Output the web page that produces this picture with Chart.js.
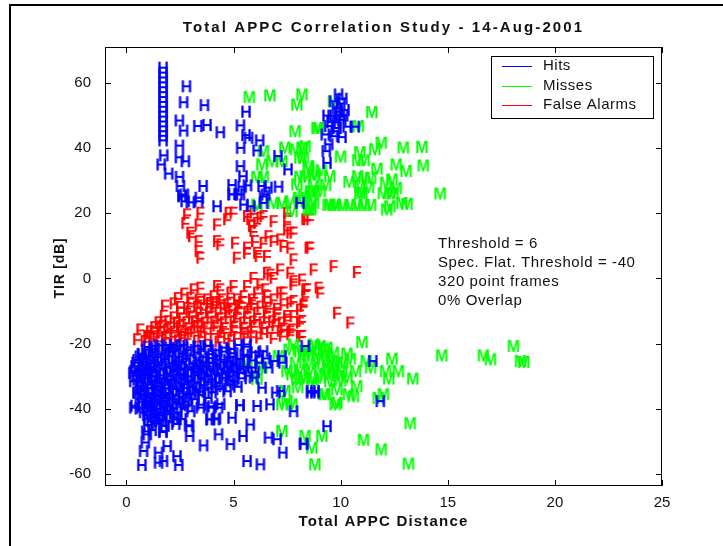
<!DOCTYPE html>
<html>
<head>
<meta charset="utf-8">
<script src="https://cdn.jsdelivr.net/npm/chart.js@4.4.1/dist/chart.umd.min.js"></script>
<style>
  html, body { margin: 0; padding: 0; background: #fff; }
  canvas { display: block; }
</style>
</head>
<body>
<canvas id="chart" width="723" height="546"></canvas>
<script>
// [APPC distance, TIR dB] for each frame class
const hitsXY = [
  // tall stack near 1.7
  [1.71,64.5],[1.71,63],[1.71,61.5],[1.71,60],[1.71,58.5],[1.71,57],[1.71,55.5],[1.71,54],
  [1.71,52.5],[1.71,51],[1.71,49.5],[1.71,48],[1.71,46.5],[1.71,45],[1.71,43.6],[1.71,42.2],
  [1.74,37.6],[1.62,34.8],
  // upper scatter
  [2.8,58.8],[2.67,53.9],[3.64,53],[2.47,48.3],[2.67,45.2],[3.33,46.6],[3.76,46.9],[4.38,44.7],
  [5.32,46.8],[5.58,51],[5.58,43.8],[5.7,43],[6.22,42.2],[2.47,40.6],[5.33,39.9],[6.1,39.1],
  [7.07,37.4],[2.47,37],[2.75,35.8],[1.97,32],[2.48,31],[5.32,34.3],[7.54,33.3],[2.52,28.2],
  [3.58,28.2],[4.93,28.5],[5.44,31.2],[5.4,28],[5.65,28.4],[6.33,28.2],[6.6,27.7],[7.1,28],
  [2.6,25.3],[2.7,25.6],[3.4,24.6],[4.95,25.7],[5.2,25.7],[6.4,25],[2.6,25],[2.74,23.5],
  [2.98,23.2],[3.37,23.5],[4.23,22],[4.93,25.6],[5.32,25.6],[5.48,22.5],[5.8,22],[6.4,23],
  [6.5,25.6],[8.1,23],
  // group near 10
  [9.9,56.3],[9.67,54.2],[9.8,52],[10.0,53.5],[9.36,49.8],[9.6,49.8],[9.98,49.8],[10.14,49.8],
  [9.8,47.7],[10.05,48.5],[9.44,46.6],[9.83,46],[10.3,46.4],[10.68,46.4],[9.28,44],[9.67,43.5],
  [10.06,43.2],[9.44,41],[9.33,38.9],[9.36,35.3],[9.9,51],[10.1,55],[9.75,45],[9.55,47.8],[10.2,51.5],
  // lower dense group
  [1.0,-21.2],[1.5,-20.7],[2.0,-21.5],[2.5,-20.9],[3.0,-21.3],[3.8,-20.8],[4.5,-21.4],[5.2,-20.6],[5.6,-21.1],
  [0.9,-22.0],[1.35,-21.8],[1.85,-22.2],[2.35,-21.9],[2.85,-22.1],[3.5,-21.9],[4.2,-22.2],[4.9,-21.8],
  [0.7,-23.3],[1.2,-22.8],[1.6,-23.5],[2.1,-22.7],[2.6,-23.2],[3.3,-22.9],[4.0,-23.4],[4.6,-22.6],[5.0,-23.1],[5.5,-23.6],[6.0,-22.8],
  [0.6,-24.1],[1.05,-23.9],[1.45,-24.3],[2.0,-24.0],[2.45,-24.2],[3.0,-23.8],[3.6,-24.2],[4.2,-24.0],[4.9,-24.3],[5.6,-24.1],[6.2,-23.9],
  [0.5,-25.2],[0.9,-24.7],[1.3,-25.4],[1.8,-24.9],[2.3,-25.5],[2.8,-24.8],[3.4,-25.3],[3.9,-24.6],[4.4,-25.1],[4.8,-25.6],[5.3,-24.9],[5.9,-25.3],[6.5,-24.7],
  [0.45,-26.0],[0.75,-25.8],[1.15,-26.2],[1.6,-25.9],[2.15,-26.1],[2.6,-25.8],[3.1,-26.2],[3.55,-25.9],[4.0,-26.1],[4.55,-25.8],[5.0,-26.2],[6.2,-26.0],
  [0.4,-27.1],[0.8,-26.6],[1.1,-27.4],[1.5,-26.8],[2.0,-27.3],[2.4,-26.7],[2.9,-27.5],[3.3,-26.9],[3.7,-27.2],[4.2,-26.6],[4.7,-27.4],[5.1,-26.8],[5.5,-27.2],
  [0.55,-28.0],[0.95,-27.8],[1.25,-28.2],[1.7,-27.9],[2.2,-28.1],[2.55,-27.8],[3.0,-28.2],[3.45,-27.9],[3.9,-28.1],[4.4,-27.8],[4.85,-28.2],[5.3,-27.9],
  [0.3,-29.2],[0.7,-28.7],[1.0,-29.4],[1.4,-28.8],[1.9,-29.3],[2.3,-28.6],[2.7,-29.5],[3.2,-28.9],[3.6,-29.1],[4.1,-28.7],[4.6,-29.4],[5.0,-28.8],[5.4,-29.2],[6.0,-28.9],
  [0.45,-30.0],[0.85,-29.8],[1.2,-30.2],[1.6,-29.9],[2.05,-30.1],[2.5,-29.8],[2.9,-30.2],[3.35,-29.9],[3.8,-30.1],[4.3,-29.8],[4.8,-30.2],[5.7,-30.0],
  [0.5,-31.2],[0.9,-30.7],[1.3,-31.4],[1.7,-30.8],[2.1,-31.3],[2.6,-30.6],[3.0,-31.5],[3.5,-30.9],[4.0,-31.1],[4.5,-30.7],[4.9,-31.4],[5.4,-30.8],
  [0.7,-32.0],[1.15,-31.8],[1.55,-32.2],[1.95,-31.9],[2.4,-32.1],[2.85,-31.8],[3.3,-32.2],[3.8,-31.9],[4.3,-32.1],[5.0,-31.8],
  [0.6,-33.1],[1.0,-32.7],[1.4,-33.4],[1.8,-32.8],[2.2,-33.3],[2.7,-32.6],[3.1,-33.5],[3.6,-32.9],[4.2,-33.2],[4.8,-32.7],[5.2,-33.4],
  [0.65,-34.0],[1.05,-33.8],[1.45,-34.2],[1.85,-33.9],[2.3,-34.1],[2.75,-33.8],[3.25,-34.2],[3.8,-33.9],[4.4,-34.1],
  [0.5,-35.2],[0.8,-34.7],[1.2,-35.4],[1.6,-34.8],[2.0,-35.3],[2.5,-34.6],[3.0,-35.5],[3.4,-34.9],[4.0,-35.1],[4.7,-34.8],
  [0.7,-36.0],[1.1,-35.8],[1.45,-36.2],[1.85,-35.9],[2.3,-36.1],[2.8,-35.8],[3.5,-36.0],
  [0.6,-37.1],[1.0,-36.7],[1.3,-37.4],[1.7,-36.8],[2.1,-37.3],[2.6,-36.6],[3.2,-37.2],[3.8,-36.8],
  [0.75,-38.0],[1.1,-37.8],[1.45,-38.2],[1.85,-37.9],[2.3,-38.1],[2.75,-37.9],
  [0.4,-39.2],[0.9,-38.7],[1.2,-39.4],[1.6,-38.8],[2.0,-39.3],[2.5,-38.6],[2.9,-39.1],[3.5,-38.9],[4.0,-39.4],[4.4,-38.7],[5.3,-39.1],
  [0.6,-40.1],[1.0,-39.9],[1.4,-40.2],[1.75,-39.8],[2.2,-40.1],[2.7,-40.0],
  [0.8,-41.2],[1.1,-40.7],[1.5,-41.4],[1.9,-40.8],[2.4,-41.3],[3.0,-40.9],
  [0.95,-42.1],[1.25,-41.9],[1.6,-42.2],[2.0,-41.8],
  [1.0,-43.2],[1.3,-42.7],[1.7,-43.4],[2.2,-42.8],[2.6,-43.3],[3.9,-43.4],[4.2,-43.1],
  [1.15,-44.0],[1.55,-43.8],[2.0,-44.1],
  [1.0,-45.1],[1.4,-44.7],[1.8,-45.4],[2.3,-44.8],[2.9,-45.2],
  [0.9,-47.1],[1.2,-46.7],[1.7,-47.3],
  // lower scatter
  [3.76,-20.9],[5.63,-20.4],[6.4,-22.5],[8.35,-20.9],[7.26,-24],[6.64,-27.5],[5.86,-27.5],[5.93,-30.6],
  [6.33,-33.7],[6.97,-35.2],[7.2,-34.7],[8.6,-34.7],[8.8,-34.7],[6.1,-39.3],[6.7,-38.8],[7.8,-40.9],
  [9.36,-45.5],[6.63,-49],[7.03,-49.5],[7.3,-53.6],[8.27,-51],[5.63,-56.2],[6.25,-57.2],[5.78,-45],
  [5.44,-48.5],[4.93,-42.9],[4.85,-51],[4.3,-48],[3.6,-51.4],[2.95,-45.5],[2.95,-48.5],[3.92,-43.4],
  [4.15,-43.4],[2.36,-43.4],[1.71,-47],[0.97,-48],[0.88,-50.5],[0.8,-53.1],[0.72,-57.4],[1.5,-53.6],
  [1.9,-51.6],[1.5,-56.7],[1.73,-56.2],[2.36,-54.7],[2.44,-57.4],[0.34,-39.8],[0.5,-35.2],[0.34,-28.6],
  [0.34,-31.7],[0.73,-23.5],[1.27,-20.9],[1.9,-20.6],[2.2,-20.6],[2.65,-20.6],[3.3,-20.9],[3.45,-39.8],
  [3.92,-39.8],[4.3,-39.8],[5.3,-39],[11.5,-25.5],[8.6,-35.2],[8.8,-35.2],[11.85,-37.8],[8.27,-50.8],
  [7.3,-26],[6.9,-25.5]
];

const missesXY = [
  // upper region
  [5.74,55.5],[6.7,56],[7.96,53.2],[8.2,56.3],[7.88,45],[8.9,46],[6.4,38.9],[7.4,40],
  [7.9,39.4],[8.2,40],[6.33,34.8],[6.8,35.8],[7.26,35.8],[8.1,36.9],[8.5,33.8],[8.74,31.7],
  [6.1,31],[6.4,31],[8.1,31],[7.96,28.7],[8.74,28.2],[9.05,26.6],[9.67,54.2],[11.46,50.9],
  [8.97,46],[10.83,46.6],[11.9,41.5],[12.93,40],[13.8,40.2],[10.9,38.6],[10.8,36.1],[11.1,36.1],
  [13.86,34.5],[13.06,32.8],[8.35,40.4],[8.27,36.9],[8.5,34.3],[8.8,31.7],[8.35,31.2],[9.5,31.2],
  [10.8,31.2],[11.1,30.7],[11.4,30.7],[10.9,28.2],[11.0,26.1],[12.1,29.2],[12.4,30.2],[12.3,26.1],
  [12.45,25.9],[14.65,25.9],[8.27,25.6],[8.6,26.6],[8.74,26.6],[8.5,21],[8.6,22],[9.42,22.4],
  [9.75,22.4],[10.1,22.4],[10.45,22.4],[10.77,22.4],[11.1,22.4],[11.4,22.4],[12.15,21],[12.86,23],
  [13.1,22.7],[6.87,23],[7.26,23],[7.65,23.5],[8.04,24.6],[8.2,23.5],[8.6,25.1],[8.74,23],
  [9.5,22.5],[9.75,22.5],[7.73,20.5],[8.6,21],[6.1,22.5],[12.3,22],[12.0,26],[10.9,26],
  [9.1,33],[9.3,28.5],[10.4,29.5],[11.7,33.5],[12.6,34.8],[11.3,27.8],[12.6,27.6],[10.0,37.2],[11.6,39.5],
  // lower region
  [7.8,-20.4],[8.1,-22.5],[8.5,-23.5],[8.8,-20.9],[9.2,-21.9],[9.67,-22.9],[7.1,-24],[5.63,-26],
  [6.33,-27.5],[6.1,-31],[7.5,-28.6],[7.73,-29.6],[7.96,-31.1],[8.27,-30.6],[8.66,-31.1],[9.05,-30.6],
  [9.5,-31.7],[9.67,-29.1],[9.83,-26],[7.4,-34.7],[7.5,-37.8],[7.26,-38.8],[7.73,-38.8],[9.28,-35.7],
  [9.83,-34.2],[9.83,-38.3],[7.26,-47],[8.35,-48.5],[9.13,-48.5],[8.66,-52.1],[8.8,-57.2],[11,-19.7],
  [14.72,-23.8],[16.67,-23.8],[17,-25],[18.07,-20.9],[18.4,-25.5],[18.55,-25.8],[12.4,-24.8],[10.45,-24.8],
  [11.2,-25.5],[11.4,-27.5],[10.1,-26],[10.7,-28.6],[12.1,-28.6],[12.25,-30.9],[12.7,-28.6],[13.37,-30.9],
  [8.75,-20.4],[9.05,-20.9],[9.36,-21.4],[8.27,-24],[8.97,-24.5],[9.2,-25],[9.6,-25.5],[9.05,-27.5],
  [9.44,-28],[9.67,-27],[10.06,-28.6],[8.27,-30.6],[8.74,-31.1],[9.2,-35.7],[10.37,-35.7],[10.6,-36.3],
  [10.75,-33.2],[9.75,-38.8],[11.76,-36.8],[12.0,-35.7],[13.25,-44.6],[11.07,-49.7],[11.9,-52.6],[13.17,-57],
  [8.5,-26.5],[10.3,-23.2],[10.0,-31.5],[8.0,-33.5],
  [7.6,-22.0],[8.3,-22.3],[8.9,-23.0],[9.4,-24.0],[7.9,-26.0],[8.6,-28.0],[9.3,-29.5],[8.1,-28.3],[9.9,-30.0],[10.3,-30.5]
];

const falseAlarmsXY = [
  // upper region
  [2.83,19.5],[2.75,16.9],[3.45,20],[3.37,16.4],[2.98,13.9],[3.06,12.8],[3.37,11.3],[3.37,8.2],
  [3.45,6.2],[4.23,16.4],[4.23,11.3],[4.38,10.3],[4.77,20],[5.0,20],[4.7,18],[5.07,10.8],
  [5.15,6.2],[5.63,9.3],[5.63,7.7],[5.63,19],[5.78,18],[5.93,20],[5.86,15.9],[5.93,14.4],
  [6.1,16.9],[6.25,18.5],[6.4,19],[6.87,17.4],[6.0,11.3],[6.4,10.8],[6.63,12.8],[6.87,11.3],
  [7.18,11.8],[6.1,7.7],[6.17,6.7],[6.56,6.7],[7.5,14.9],[7.65,13.9],[7.5,20],[7.33,9.8],
  [7.65,9.3],[8.43,18],[7.8,5.7],[8.5,9.3],[8.35,18],[8.58,18],[7.5,17.4],[7.8,13.9],[8.58,9.3],
  // middle
  [7.18,2.6],[7.65,1.6],[8.74,2.6],[9.67,3.6],[10.76,1.8],[7.8,-1],[8.2,-0.5],[8.35,-3.5],
  [8.97,-3],[9.05,-4.5],[7.33,-4.5],[7.65,-7.6],[8.27,-8.6],[9.83,-10.7],[10.45,-13.7],[7.73,-15.8],
  [8.1,-13.7],[7.65,-17.3],[8.1,-17.8],[7.5,-11.7],[7.8,-11.7],[8.2,-13.2],[8.2,-17.8],[6.72,1],
  [6.87,0],[6.56,1.6],[5.93,0],[7.8,-2],[8.43,-3.5],[8.35,-5.6],[6.25,-2],[6.48,-3.5],
  [6.56,-5.6],[6.1,-4.5],[5.63,-2.5],[5.47,-5.6],[5.86,-6.6],[5.0,-2.5],[4.85,-4.5],[5.16,-6.6],
  [4.7,-8.1],[5.24,-8.6],[4.23,-2.5],[4.38,-3.5],[4.07,-5.6],[4.46,-6.6],[4.15,-8.1],[3.14,-3.5],
  [3.45,-3],[2.98,-6.1],[3.37,-6.6],[3.76,-6.6],[6.87,-6.6],[7.33,-8.1],[7.18,-4.5],[7.8,-7.1],
  [8.1,-9.7],[8.27,-8.1],[1.8,-8.5],[2.2,-7.8],[2.5,-8.9],[2.4,-6.2],[2.7,-4.8],
  // lower dense band
  [3.0,-7.6],[3.45,-7.4],[3.9,-7.7],[4.35,-7.3],[4.85,-7.6],[5.4,-7.4],[5.95,-7.7],[6.5,-7.3],
  [2.83,-9.2],[3.3,-8.8],[3.6,-9.5],[4.07,-8.9],[4.53,-9.3],[4.93,-9.6],[5.32,-9],[5.78,-9.4],
  [6.25,-8.8],[6.64,-9.2],[7.03,-9.5],
  [2.5,-10.6],[2.95,-10.3],[3.4,-10.8],[3.85,-10.4],[4.3,-10.7],[4.75,-10.3],[5.2,-10.8],[5.65,-10.4],
  [6.1,-10.7],[6.55,-10.3],[7.0,-10.8],
  [1.74,-11.6],[2.2,-12.1],[2.6,-12.5],[3.06,-11.8],[3.45,-12.3],[3.92,-11.9],[4.38,-12.4],[4.77,-11.7],
  [5.16,-12.2],[5.63,-12],[6.1,-12.6],[6.56,-11.9],[7.03,-12.4],[7.5,-12.8],
  [1.5,-13.6],[1.95,-13.3],[2.8,-13.6],[3.2,-13.3],[3.65,-13.7],[4.1,-13.4],[4.55,-13.6],[5.0,-13.3],
  [5.45,-13.7],[5.9,-13.4],[6.35,-13.6],[6.8,-13.3],[7.25,-13.7],
  [1.3,-15.1],[1.7,-14.6],[2.05,-15.3],[2.5,-14.8],[2.9,-15.5],[3.3,-14.7],[3.75,-15.2],[4.2,-14.6],
  [4.6,-15.4],[5.05,-14.9],[5.5,-15.3],[5.95,-14.7],[6.45,-15.1],[6.95,-14.5],[7.35,-15.6],
  [0.65,-15.8],[0.97,-17.8],[1.27,-16.7],[1.59,-14.9],[1.9,-15.8],[2.36,-13.7],[2.67,-17.3],[3.14,-16.4],
  [3.45,-14.9],[4.07,-16.9],[4.7,-18.4],[5.16,-18.4],[5.47,-16.9],[5.93,-17.9],[6.4,-16.9],[6.87,-18.4],
  [7.65,-16.4],[8.1,-17.9],
  [1.1,-16.4],[1.6,-16.7],[2.2,-16.5],[2.55,-16.2],[3.0,-16.7],[3.6,-16.4],[4.5,-16.6],[5.0,-16.3],
  [5.8,-16.5],[6.7,-16.6],[7.2,-16.2],
  [1.0,-18.2],[1.4,-17.9],[1.8,-18.1],[2.2,-17.8],[2.6,-18.2],[3.5,-17.9],[4.4,-17.8],[5.6,-18.0],
  [6.2,-18.3],[7.3,-17.7],
  [0.5,-18.8],[0.85,-19.4],[1.2,-18.6],[1.55,-19.2],[1.95,-18.3],[2.4,-19.1],[2.85,-18.5],[3.3,-19.3],
  [3.8,-18.7],[4.3,-19.5],[4.9,-19]
];

const xTickStep = 5;
const yTickStep = 20;
const titleText = 'Total APPC Correlation Study - 14-Aug-2001';
const xLabel = 'Total APPC Distance';
const yLabel = 'TIR [dB]';
const legendNames = ['Hits', 'Misses', 'False Alarms'];
const noteLines = ['Threshold = 6', 'Spec. Flat. Threshold = -40', '320 point frames', '0% Overlap'];

const BLUE = '#0000ff', GREEN = '#00ff00', RED = '#ff0000';
const FONT = '"Liberation Sans", Arial, Helvetica, sans-serif';

// small canvas with a letter, used as the point marker
function letterMarker(ch, color) {
  const c = document.createElement('canvas');
  c.width = 20; c.height = 17;
  const g = c.getContext('2d');
  g.font = 'bold 16px ' + FONT;
  g.fillStyle = color;
  g.textAlign = 'center';
  g.textBaseline = 'alphabetic';
  g.fillText(ch, 10, 14.2);
  return c;
}

function toPoints(pairs) {
  return pairs.map(p => ({ x: p[0], y: p[1] }));
}

// box, inward ticks, title, labels, legend and notes
const decorations = {
  id: 'decorations',
  afterDraw(chart) {
    const ctx = chart.ctx;
    const a = chart.chartArea;
    const xs = chart.scales.x, ys = chart.scales.y;
    ctx.save();

    // figure frame
    ctx.fillStyle = '#000';
    ctx.fillRect(9, 4, 2, 542);
    ctx.fillRect(9, 4, 714, 2);

    // axes box
    ctx.strokeStyle = '#000';
    ctx.lineWidth = 1;
    ctx.strokeRect(a.left + 0.5, a.top + 0.5, a.right - a.left - 1, a.bottom - a.top - 1);

    ctx.beginPath();
    xs.ticks.forEach(t => {
      const px = Math.round(xs.getPixelForValue(t.value)) + 0.5;
      ctx.moveTo(px, a.bottom); ctx.lineTo(px, a.bottom - 6);
      ctx.moveTo(px, a.top); ctx.lineTo(px, a.top + 6);
    });
    ys.ticks.forEach(t => {
      const py = Math.round(ys.getPixelForValue(t.value)) + 0.5;
      ctx.moveTo(a.left, py); ctx.lineTo(a.left + 6, py);
      ctx.moveTo(a.right, py); ctx.lineTo(a.right - 6, py);
    });
    ctx.stroke();

    // title and axis labels
    ctx.fillStyle = '#111';
    ctx.font = 'bold 15px ' + FONT;
    ctx.textAlign = 'center';
    ctx.textBaseline = 'middle';
    const cx = (a.left + a.right) / 2;
    ctx.letterSpacing = '2.1px';
    ctx.fillText(titleText, cx, 28);
    ctx.letterSpacing = '1.2px';
    ctx.fillText(xLabel, cx, 522);
    ctx.save();
    ctx.translate(60, 268);
    ctx.rotate(-Math.PI / 2);
    ctx.font = 'bold 14px ' + FONT;
    ctx.letterSpacing = '0.8px';
    ctx.fillText(yLabel, 0, 0);
    ctx.restore();

    // legend
    ctx.letterSpacing = '0.5px';
    ctx.fillStyle = '#fff';
    ctx.fillRect(491, 56, 162, 62);
    ctx.strokeStyle = '#000';
    ctx.strokeRect(491.5, 56.5, 162, 62);
    const colors = [BLUE, GREEN, RED];
    const rows = [66, 86, 105];
    ctx.font = '15px ' + FONT;
    ctx.textAlign = 'left';
    legendNames.forEach((name, i) => {
      ctx.strokeStyle = colors[i];
      ctx.beginPath();
      ctx.moveTo(502, rows[i] + 0.5);
      ctx.lineTo(532, rows[i] + 0.5);
      ctx.stroke();
      ctx.fillStyle = '#111';
      ctx.fillText(name, 543, rows[i]);
    });

    // run settings
    ctx.letterSpacing = '0.6px';
    noteLines.forEach((line, i) => {
      ctx.fillText(line, 438, 244 + i * 19);
    });
    ctx.restore();
  }
};

new Chart(document.getElementById('chart'), {
  type: 'scatter',
  data: {
    datasets: [
      { label: legendNames[0], data: toPoints(hitsXY), pointStyle: letterMarker('H', BLUE), pointRadius: 5 },
      { label: legendNames[1], data: toPoints(missesXY), pointStyle: letterMarker('M', GREEN), pointRadius: 5 },
      { label: legendNames[2], data: toPoints(falseAlarmsXY), pointStyle: letterMarker('F', RED), pointRadius: 5 }
    ]
  },
  options: {
    responsive: false,
    animation: false,
    devicePixelRatio: 1,
    layout: { padding: { left: 0, right: 61, top: 47, bottom: 0 } },
    plugins: {
      legend: { display: false },
      title: { display: false },
      tooltip: { enabled: false }
    },
    scales: {
      x: {
        type: 'linear',
        min: -1,
        max: 25,
        grid: { display: false },
        border: { display: false },
        ticks: {
          stepSize: xTickStep,
          includeBounds: false,
          padding: 0,
          color: '#111',
          font: { family: FONT, size: 15 }
        },
        afterFit(s) { s.height = 60; }
      },
      y: {
        type: 'linear',
        min: -63.7,
        max: 71,
        grid: { display: false },
        border: { display: false },
        ticks: {
          stepSize: yTickStep,
          includeBounds: false,
          padding: 6,
          color: '#111',
          font: { family: FONT, size: 15 }
        },
        afterFit(s) { s.width = 105; }
      }
    }
  },
  plugins: [decorations]
});
</script>
</body>
</html>
